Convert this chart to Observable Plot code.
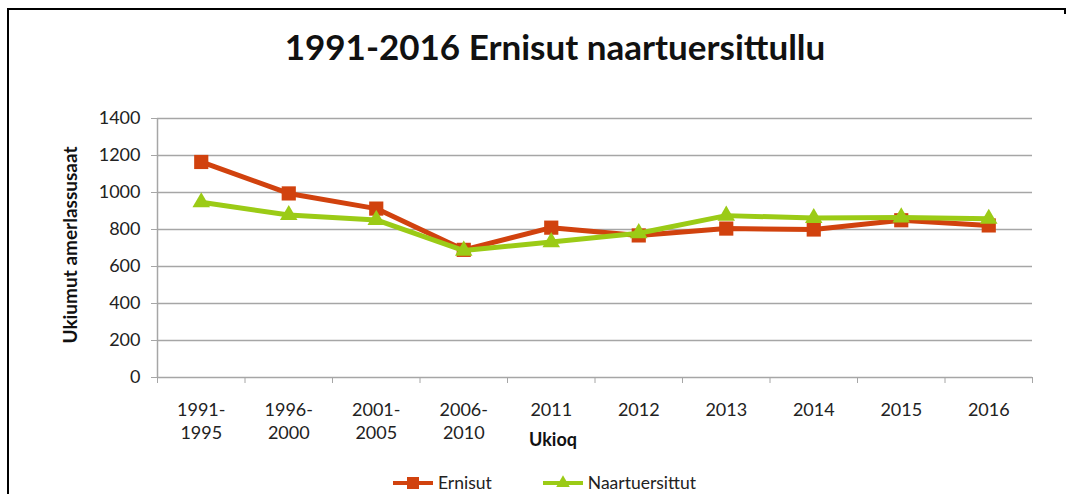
<!DOCTYPE html>
<html>
<head>
<meta charset="utf-8">
<script src="https://cdn.jsdelivr.net/npm/d3@7"></script>
<script src="https://cdn.jsdelivr.net/npm/@observablehq/plot@0.6"></script>
<style>
  html, body { margin: 0; padding: 0; background: #fff; }
  #wrap { position: relative; width: 1068px; height: 494px; overflow: hidden; font-family: Lato, "Open Sans", sans-serif; color: #222; }
  #wrap svg.plot { position: absolute; left: 0; top: 0; }
  .bt { position: absolute; left: 7px; top: 8px; width: 1059px; height: 2px; background: #000; }
  .bl { position: absolute; left: 7px; top: 8px; width: 2px; height: 490px; background: #000; }
  .br { position: absolute; left: 1064px; top: 8px; width: 2px; height: 6px; background: #000; }
  #title { position: absolute; left: 555px; top: 46px; transform: translate(-50%, -50%); white-space: nowrap; font-size: 35px; font-weight: bold; color: #111; }
  #ylab { position: absolute; left: 69px; top: 245px; transform: translate(-50%, -50%) rotate(-90deg); font-size: 19px; font-weight: bold; white-space: nowrap; color: #111; }
  #xlab { position: absolute; left: 553px; top: 439px; transform: translate(-50%, -50%); font-size: 18px; font-weight: bold; color: #111; }
  #legend { position: absolute; top: 474px; left: 393px; height: 18px; display: flex; align-items: center; font-size: 17.5px; line-height: 18px; color: #222; }
  #legend .item { display: flex; align-items: center; height: 18px; }
  #legend svg { display: block; }
</style>
</head>
<body>
<div id="wrap">
  <div class="bt"></div><div class="bl"></div><div class="br"></div>
  <div id="title">1991-2016 Ernisut naartuersittullu</div>
  <div id="ylab">Ukiumut amerlassusaat</div>
  <div id="xlab">Ukioq</div>
  <div id="legend"></div>
</div>
<script>
const categories = ["1991-\n1995", "1996-\n2000", "2001-\n2005", "2006-\n2010", "2011", "2012", "2013", "2014", "2015", "2016"];
const ernisut = [1165, 995, 913, 690, 810, 768, 805, 800, 850, 822];
const naartuersittut = [947, 878, 852, 686, 732, 780, 875, 862, 865, 858];
const yTicks = [0, 200, 400, 600, 800, 1000, 1200, 1400];
const seriesNames = ["Ernisut", "Naartuersittut"];

const RED = "#D1420E";
const GREEN = "#9BCB16";
const GRID = "#A6A6A6";

const data = categories.map((c, i) => ({i, cat: c, ernisut: ernisut[i], naartuersittut: naartuersittut[i]}));
const boundaries = d3.range(categories.length + 1).map(k => k - 0.5);

const chart = Plot.plot({
  width: 1068,
  height: 494,
  marginLeft: 157,
  marginRight: 36,
  marginTop: 118,
  marginBottom: 117,
  style: {fontFamily: "Lato, 'Open Sans', sans-serif", fontSize: "18px", color: "#222", background: "transparent"},
  x: {type: "linear", domain: [-0.5, categories.length - 0.5], axis: null},
  y: {domain: [0, 1400], axis: null},
  marks: [
    Plot.ruleY(yTicks, {stroke: GRID, strokeWidth: 1.5}),
    Plot.ruleX([-0.5], {y1: 0, y2: 1400, stroke: GRID, strokeWidth: 1.5}),
    Plot.axisY({ticks: yTicks, tickSize: 6, tickPadding: 11, stroke: GRID, fill: "#222", fontSize: 18, label: null, tickFormat: d => String(d)}),
    Plot.axisX({ticks: boundaries, tickSize: 6, tickFormat: () => "", stroke: GRID, label: null}),
    Plot.text(data, {x: "i", text: "cat", frameAnchor: "bottom", dy: 22, lineAnchor: "top", lineHeight: 1.28, fontSize: 18, fill: "#222"}),
    Plot.line(data, {x: "i", y: "ernisut", stroke: RED, strokeWidth: 5}),
    Plot.dot(data, {x: "i", y: "ernisut", symbol: "square", r: 8, fill: RED, stroke: null}),
    Plot.line(data, {x: "i", y: "naartuersittut", stroke: GREEN, strokeWidth: 5}),
    Plot.dot(data, {x: "i", y: "naartuersittut", symbol: "triangle", r: 6.5, fill: GREEN, stroke: null})
  ]
});
chart.classList.add("plot");
document.getElementById("wrap").insertBefore(chart, document.getElementById("title"));

// legend
const legend = document.getElementById("legend");
const sw = [
  {name: seriesNames[0], color: RED, sym: "square"},
  {name: seriesNames[1], color: GREEN, sym: "triangle"}
];
sw.forEach((s, k) => {
  const item = document.createElement("div");
  item.className = "item";
  if (k > 0) item.style.marginLeft = "51px";
  const svg = d3.create("svg").attr("width", 42).attr("height", 18);
  svg.append("line").attr("x1", 0).attr("x2", 40).attr("y1", 9).attr("y2", 9).attr("stroke", s.color).attr("stroke-width", 4);
  if (s.sym === "square") {
    svg.append("rect").attr("x", 14).attr("y", 3).attr("width", 12).attr("height", 12).attr("fill", s.color);
  } else {
    svg.append("path").attr("d", d3.symbol(d3.symbolTriangle, 80)()).attr("transform", "translate(20,9)").attr("fill", s.color);
  }
  item.appendChild(svg.node());
  const t = document.createElement("span");
  t.textContent = s.name;
  t.style.marginLeft = "3px";
  item.appendChild(t);
  legend.appendChild(item);
});
</script>
</body>
</html>
